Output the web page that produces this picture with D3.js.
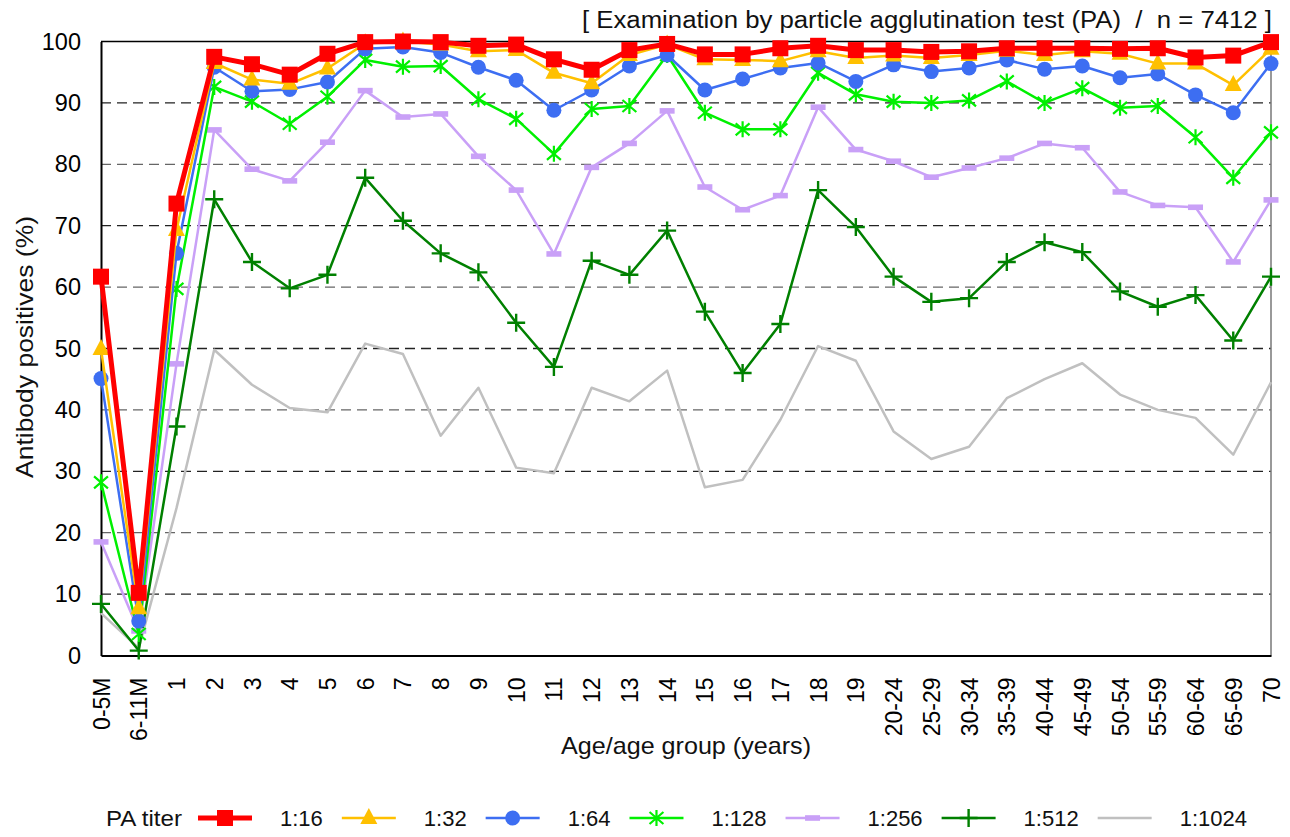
<!DOCTYPE html>
<html><head><meta charset="utf-8">
<script src="https://cdn.jsdelivr.net/npm/d3@7"></script>
<style>
html,body{margin:0;padding:0;background:#fff;}
svg{display:block;font-family:"Liberation Sans",Arial,sans-serif;}
</style></head>
<body><svg id="chart" width="1290" height="837"></svg>
<script>
const categories = ["0-5M","6-11M","1","2","3","4","5","6","7","8","9","10","11","12","13","14","15","16","17","18","19","20-24","25-29","30-34","35-39","40-44","45-49","50-54","55-59","60-64","65-69","70"];
const seriesNames = ["1:16","1:32","1:64","1:128","1:256","1:512","1:1024"];
const t16   = [61.7,10.2,73.6,97.5,96.3,94.6,98.0,99.9,100,99.9,99.3,99.5,97.1,95.4,98.6,99.6,97.9,97.9,98.9,99.3,98.6,98.6,98.3,98.4,98.9,98.9,98.9,98.8,98.9,97.4,97.7,99.9];
const t32   = [49.9,7.7,69.3,96.5,93.8,93.1,95.6,99.7,100,99.5,98.4,98.6,94.9,93.2,97.8,99.5,97.1,97.0,96.8,98.4,97.3,97.7,97.3,97.8,98.5,97.8,98.4,98.0,96.4,96.4,92.9,98.8];
const t64   = [45.1,5.6,65.5,95.8,91.9,92.2,93.4,98.8,99.1,98.2,95.8,93.7,88.8,92.1,96.0,97.8,92.1,93.9,95.7,96.5,93.5,96.2,95.1,95.7,97.0,95.5,96.0,94.1,94.7,91.3,88.4,96.4];
const t128  = [28.2,3.5,59.7,92.6,90.2,86.6,91.0,97.0,95.9,96.0,90.6,87.4,81.7,89.0,89.5,97.8,88.4,85.7,85.7,94.9,91.4,90.2,90.0,90.4,93.5,90.0,92.4,89.2,89.5,84.4,77.8,85.2];
const t256  = [18.5,4.0,47.5,85.6,79.2,77.3,83.6,92.0,87.7,88.2,81.3,75.8,65.4,79.5,83.4,88.7,76.3,72.6,74.9,89.3,82.4,80.5,77.9,79.4,81.0,83.4,82.7,75.5,73.3,73.0,64.1,74.2];
const t512  = [8.4,0.8,37.3,74.3,64.1,59.8,62.0,77.8,70.8,65.5,62.4,54.2,47.0,64.3,62.0,69.2,56.0,46.0,54.0,75.8,69.8,61.7,57.6,58.2,64.1,67.3,65.7,59.3,56.8,58.7,51.3,61.7];
const t1024 = [6.9,1.2,24.0,49.8,44.1,40.3,39.6,50.8,49.1,35.8,43.6,30.6,29.7,43.6,41.4,46.4,27.4,28.6,38.4,50.4,48.0,36.5,32.0,34.0,41.9,45.0,47.6,42.5,40.0,38.7,32.7,44.5];
const yTicks = [0,10,20,30,40,50,60,70,80,90,100];
const titleText = "[ Examination by particle agglutination test (PA)  /  n = 7412 ]";
const xTitle = "Age/age group (years)";
const yTitle = "Antibody positives (%)";
const legendTitle = "PA titer";

const styles = [
  {color:"#ff0000", width:5,   marker:"square"},
  {color:"#ffc000", width:2.5, marker:"triangle"},
  {color:"#3d6ef2", width:2.5, marker:"circle"},
  {color:"#00f000", width:2.5, marker:"asterisk"},
  {color:"#c9a0f7", width:2.5, marker:"bar"},
  {color:"#008000", width:2.5, marker:"plus"},
  {color:"#c0c0c0", width:2.5, marker:"none"}
];
const seriesValues = [t16,t32,t64,t128,t256,t512,t1024];

const svg = d3.select("#chart");
const L=101, R=1271, T=41.5, B=655.5;
const x = d3.scalePoint().domain(categories).range([L,R]).padding(0);
const y = d3.scaleLinear().domain([0,100]).range([B,T]);

// grid
svg.append("g").selectAll("line").data(yTicks.filter(d=>d>0&&d<100)).join("line")
  .attr("x1",L).attr("x2",R).attr("y1",d=>y(d)).attr("y2",d=>y(d))
  .attr("stroke",(d,i)=>i%2===0?"#222":"#666").attr("stroke-width",1.3).attr("stroke-dasharray","10,6");

// frame
svg.append("line").attr("x1",L).attr("x2",R).attr("y1",T).attr("y2",T).attr("stroke","#000").attr("stroke-width",1.5);
svg.append("line").attr("x1",R).attr("x2",R).attr("y1",T).attr("y2",B).attr("stroke","#777").attr("stroke-width",1.5);

// y axis
const yAxis = d3.axisLeft(y).tickValues(yTicks).tickSize(0).tickPadding(20);
const gy = svg.append("g").attr("transform",`translate(${L},0)`).call(yAxis);
gy.select(".domain").attr("stroke","#000").attr("stroke-width",2);
gy.selectAll("text").attr("font-size",23.5).attr("fill","#000").attr("font-family","Liberation Sans, Arial, sans-serif");

// x axis
const xAxis = d3.axisBottom(x).tickSize(0).tickPadding(0);
const gx = svg.append("g").attr("transform",`translate(0,${B})`).call(xAxis);
gx.select(".domain").attr("stroke","#000").attr("stroke-width",2);
gx.selectAll("text").attr("font-size",23).attr("fill","#000").attr("font-family","Liberation Sans, Arial, sans-serif")
  .attr("text-anchor","end").attr("transform","translate(0,22) rotate(-90)").attr("x",0).attr("y",0).attr("dy","0.35em");

// titles
svg.append("text").attr("x",1272).attr("y",28).attr("text-anchor","end").attr("font-size",23).attr("fill","#111")
  .attr("textLength",690).attr("lengthAdjust","spacingAndGlyphs").style("white-space","pre").text(titleText);
svg.append("text").attr("x",686).attr("y",754).attr("text-anchor","middle").attr("font-size",24).attr("fill","#111")
  .attr("textLength",250).attr("lengthAdjust","spacingAndGlyphs").text(xTitle);
svg.append("text").attr("transform","translate(33,347) rotate(-90)").attr("text-anchor","middle").attr("font-size",24).attr("fill","#111")
  .attr("textLength",262).attr("lengthAdjust","spacingAndGlyphs").text(yTitle);

function drawMarker(g, type, color, cx, cy, s){
  s = s||1;
  if(type==="square") g.append("rect").attr("x",cx-8*s).attr("y",cy-8*s).attr("width",16*s).attr("height",16*s).attr("fill",color);
  else if(type==="triangle") g.append("path").attr("d",`M${cx},${cy-10*s}L${cx+8.5*s},${cy+6*s}L${cx-8.5*s},${cy+6*s}Z`).attr("fill",color);
  else if(type==="circle") g.append("circle").attr("cx",cx).attr("cy",cy).attr("r",7.5*s).attr("fill",color);
  else if(type==="asterisk"){
    const r=8*s, dx=r*0.87;
    g.append("path").attr("d",`M${cx},${cy-r}L${cx},${cy+r}M${cx-dx},${cy-r*0.75}L${cx+dx},${cy+r*0.75}M${cx-dx},${cy+r*0.75}L${cx+dx},${cy-r*0.75}`)
      .attr("stroke",color).attr("stroke-width",2.2).attr("fill","none");
  }
  else if(type==="bar") g.append("rect").attr("x",cx-7.5*s).attr("y",cy-2.8*s).attr("width",15*s).attr("height",5.6*s).attr("fill",color);
  else if(type==="plus") g.append("path").attr("d",`M${cx-9*s},${cy}L${cx+9*s},${cy}M${cx},${cy-9*s}L${cx},${cy+9*s}`).attr("stroke",color).attr("stroke-width",2.4).attr("fill","none");
}

const line = d3.line().x((d,i)=>x(categories[i])).y(d=>y(d));
const plot = svg.append("g");
for(let k=seriesValues.length-1;k>=0;k--){
  const st = styles[k];
  const g = plot.append("g");
  g.append("path").datum(seriesValues[k]).attr("d",line).attr("fill","none").attr("stroke",st.color).attr("stroke-width",st.width).attr("stroke-linejoin","round");
  if(st.marker!=="none") seriesValues[k].forEach((v,i)=>drawMarker(g, st.marker, st.color, x(categories[i]), y(v)));
}

// legend
const ly = 818;
const leg = svg.append("g").attr("font-size",22).attr("fill","#111");
leg.append("text").attr("x",106).attr("y",ly).attr("dy","0.35em").attr("textLength",76).attr("lengthAdjust","spacingAndGlyphs").text(legendTitle);
let cx = 198;
seriesNames.forEach((name,k)=>{
  const st=styles[k];
  leg.append("line").attr("x1",cx).attr("x2",cx+54).attr("y1",ly).attr("y2",ly).attr("stroke",st.color).attr("stroke-width",st.width);
  if(st.marker!=="none") drawMarker(leg, st.marker, st.color, cx+27, ly);
  const t = leg.append("text").attr("x",cx+82).attr("y",ly).attr("dy","0.35em").text(name);
  cx = cx+82+t.node().getComputedTextLength()+19;
});
</script></body></html>
